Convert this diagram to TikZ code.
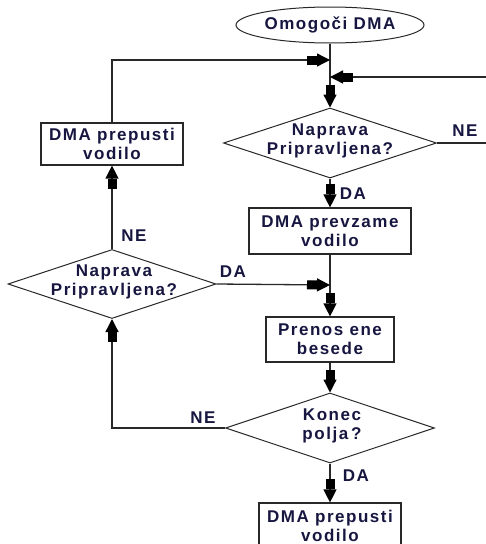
\documentclass[tikz,border=0pt]{standalone}
\usepackage{fontspec}
\setmainfont{Liberation Sans}[LetterSpace=9]
\usetikzlibrary{shapes.geometric,arrows.meta}
\definecolor{txt}{RGB}{22,22,64}
\definecolor{ln}{RGB}{40,40,40}
\tikzset{
  base/.style={draw=ln,line width=1.2pt,text=txt,font=\fontsize{17}{19}\selectfont\bfseries,align=center,inner sep=0pt},
  boxnode/.style={base,rectangle},
  decision/.style={draw=ln,line width=1pt,diamond,inner sep=0pt},
  term/.style={draw=ln,line width=1pt,ellipse,inner sep=0pt,text=txt,font=\fontsize{17}{19}\selectfont\bfseries},
  txtnode/.style={text=txt,font=\fontsize{17}{19}\selectfont\bfseries,align=center,inner sep=0pt},
  conn/.style={draw=ln,line width=1.3pt},
  arr/.style={conn,-{Rectangle[length=10pt,width=9pt,fill=black,black] Triangle[length=13pt,width=13pt,fill=black,black]}},
}
\begin{document}
\begin{tikzpicture}[x=1pt,y=-1pt]
\useasboundingbox (0,0) rectangle (486,544);
% nodes
\node[term,minimum width=188pt,minimum height=36pt] (start) at (330,25) {Omogoči DMA};
\node[decision,minimum width=213pt,minimum height=70pt] (d1) at (330,143) {};
\node[txtnode] (d1t) at (330,141) {Naprava\\Pripravljena?};
\node[boxnode,minimum width=162pt,minimum height=46pt] (b1) at (330,231) {DMA prevzame\\vodilo};
\node[boxnode,minimum width=142pt,minimum height=42pt] (bl) at (112,144) {DMA prepusti\\vodilo};
\node[decision,minimum width=208pt,minimum height=69pt] (d2) at (112,284) {};
\node[txtnode] (d2t) at (114,282) {Naprava\\Pripravljena?};
\node[boxnode,minimum width=128pt,minimum height=45pt] (b2) at (330,339.5) {Prenos ene\\besede};
\node[decision,minimum width=209pt,minimum height=70pt] (d3) at (330,428) {};
\node[txtnode] (d3t) at (332,426) {Konec\\polja\,?};
\node[boxnode,minimum width=142pt,minimum height=46pt] (b3) at (330,526) {DMA prepusti\\vodilo};
% junctions
\coordinate (j1) at (330,60);
\coordinate (j2) at (330,77);
\coordinate (j3) at (330,285);
\coordinate (r) at (490,77);
% connectors
\draw[arr] (start.south) -- (d1.north);
\draw[arr] (bl.north) |- (j1);
\draw[arr] (d1.east) -| (r) -- (j2);
\draw[arr] (d1.south) -- (b1.north);
\draw[conn] (b1.south) -- (j3);
\draw[arr] (j3) -- (b2.north);
\draw[arr] (d2.east) -- (j3);
\draw[arr] (b2.south) -- (d3.north);
\draw[arr] (d3.west) -| (d2.south);
\draw[arr] (d2.north) -- (bl.south);
\draw[arr] (d3.south) -- (b3.north);
% labels
\node[txtnode] (l1) at (465,131) {NE};
\node[txtnode] (l2) at (353,194) {DA};
\node[txtnode] (l3) at (233,272) {DA};
\node[txtnode] (l4) at (134,236) {NE};
\node[txtnode] (l5) at (203,418) {NE};
\node[txtnode] (l6) at (356,476) {DA};
\end{tikzpicture}
\end{document}
